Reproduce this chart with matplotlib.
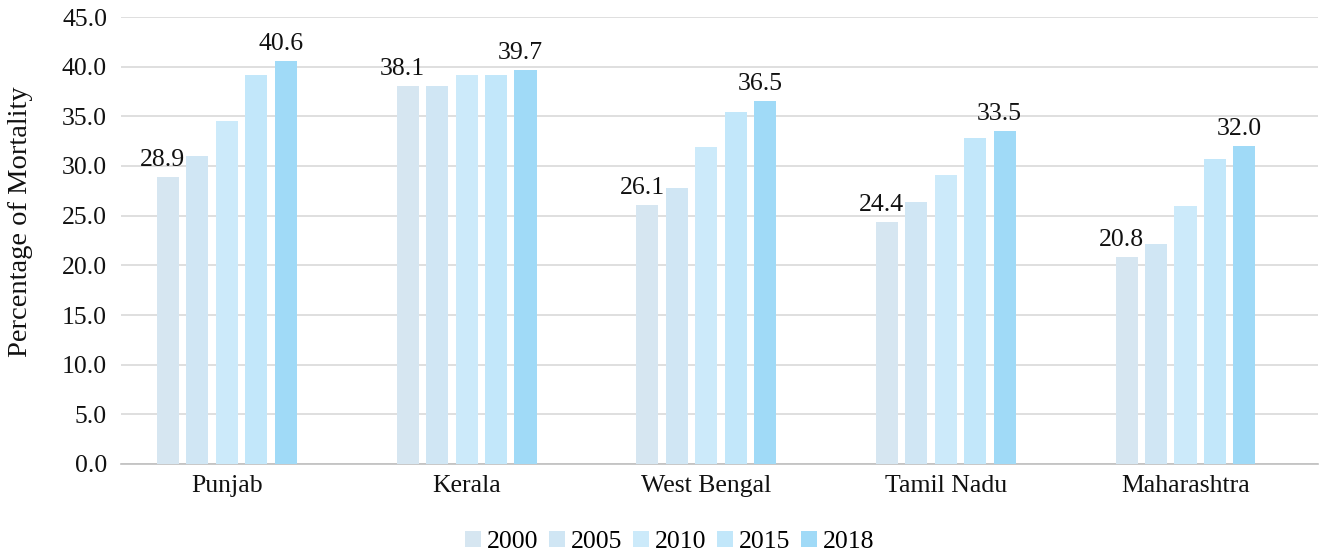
import matplotlib
matplotlib.use("Agg")
import matplotlib.pyplot as plt
import numpy as np

plt.rcParams['font.family'] = ['Liberation Serif', 'DejaVu Serif']

states = ["Punjab", "Kerala", "West Bengal", "Tamil Nadu", "Maharashtra"]
years = ["2000", "2005", "2010", "2015", "2018"]
v2000 = [28.9, 38.1, 26.1, 24.4, 20.8]
v2005 = [31.0, 38.1, 27.8, 26.4, 22.1]
v2010 = [34.5, 39.2, 31.9, 29.1, 26.0]
v2015 = [39.2, 39.2, 35.4, 32.8, 30.7]
v2018 = [40.6, 39.7, 36.5, 33.5, 32.0]
series = [v2000, v2005, v2010, v2015, v2018]
colors = ["#D6E6F1", "#D0E6F4", "#CCEAFA", "#C2E7FA", "#A0DAF7"]

FS = 18.5
fig = plt.figure(figsize=(13.19, 5.56), dpi=100)
ax = fig.add_axes([121/1319, 1-464/556, 1197/1319, (464-17)/556])

x = np.arange(len(states))
pitch = 0.123
width = 0.092
for i, (vals, c, yr) in enumerate(zip(series, colors, years)):
    pos = x + (i - 2) * pitch
    ax.bar(pos, vals, width=width, color=c, label=yr, zorder=3)
    if i in (0, 4):
        for p, v in zip(pos, vals):
            ax.text(p - 0.022, v + 0.6, f"{v:.1f}", ha="center", va="bottom",
                    fontsize=FS, color="#111111")

ax.set_xlim(-0.442, 4.553)
ax.set_ylim(0, 45)
ticks = np.arange(0, 45.1, 5)
ax.set_yticks(ticks)
ax.set_yticklabels([f"{t:.1f}" for t in ticks], fontsize=FS, color="#111111")
ax.set_xticks(x)
ax.set_xticklabels(states, fontsize=FS, color="#111111")
ax.tick_params(axis='x', length=0, pad=8)
ax.tick_params(axis='y', length=0, pad=10)
ax.grid(axis='y', color="#D9D9D9", linewidth=1.2, zorder=0)
for s in ["top", "right", "left"]:
    ax.spines[s].set_visible(False)
ax.spines["bottom"].set_color("#BFBFBF")
ax.spines["bottom"].set_linewidth(1.2)
ax.set_ylabel("Percentage of Mortality", fontsize=20.5, color="#111111")
ax.yaxis.set_label_coords((33-121)/1197, (464-222)/447)

fig.legend(*ax.get_legend_handles_labels(), loc="center", bbox_to_anchor=(670/1319, 1-542/556),
           ncol=5, frameon=False, fontsize=FS, handlelength=0.6, handleheight=0.6,
           handletextpad=0.25, columnspacing=0.42, borderpad=0)

fig.savefig("out.png", dpi=100)
